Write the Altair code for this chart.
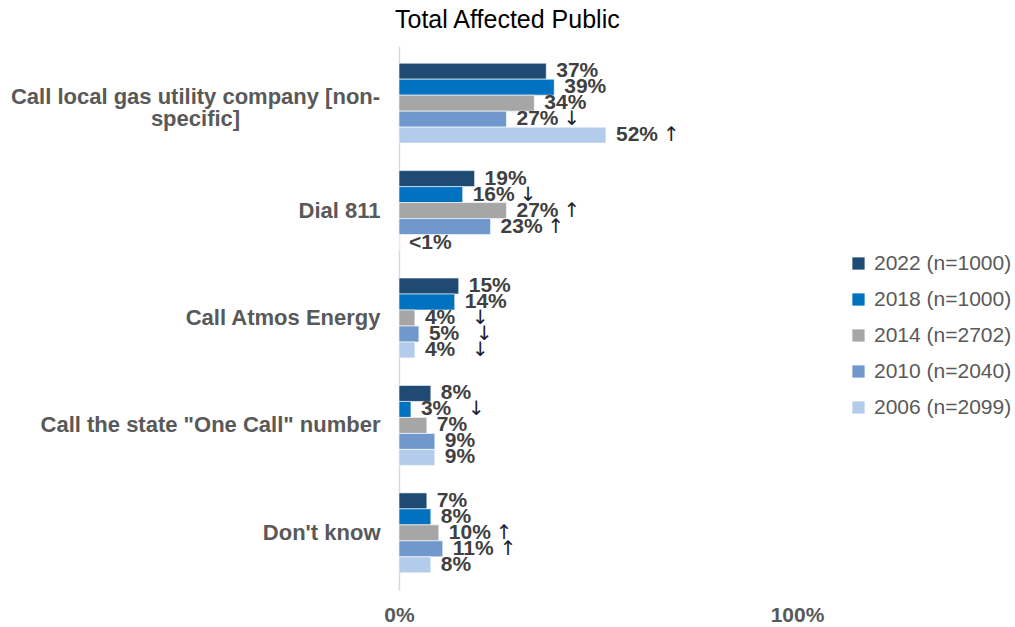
import altair as alt
import pandas as pd

categories = [
    "Call local gas utility company [non-specific]",
    "Dial 811",
    "Call Atmos Energy",
    'Call the state "One Call" number',
    "Don't know",
]
years = ["2022 (n=1000)", "2018 (n=1000)", "2014 (n=2702)", "2010 (n=2040)", "2006 (n=2099)"]
colors = ["#1F4A73", "#0072BF", "#A6A6A6", "#7198CC", "#B3CCEB"]

values = {
    "2022 (n=1000)": [37, 19, 15, 8, 7],
    "2018 (n=1000)": [39, 16, 14, 3, 8],
    "2014 (n=2702)": [34, 27, 4, 7, 10],
    "2010 (n=2040)": [27, 23, 5, 9, 11],
    "2006 (n=2099)": [52, 0, 4, 9, 8],
}
labels = {
    "2022 (n=1000)": ["37%", "19%", "15%", "8%", "7%"],
    "2018 (n=1000)": ["39%", "16%", "14%", "3%", "8%"],
    "2014 (n=2702)": ["34%", "27%", "4%", "7%", "10%"],
    "2010 (n=2040)": ["27%", "23%", "5%", "9%", "11%"],
    "2006 (n=2099)": ["52%", "<1%", "4%", "9%", "8%"],
}
arrows = {
    "2022 (n=1000)": ["", "", "", "", ""],
    "2018 (n=1000)": ["", "↓", "", "↓", ""],
    "2014 (n=2702)": ["", "↑", "↓", "", "↑"],
    "2010 (n=2040)": ["↓", "↑", "↓", "", "↑"],
    "2006 (n=2099)": ["↑", "", "↓", "", ""],
}

rows = []
for y in years:
    for i, c in enumerate(categories):
        rows.append({"category": c, "year": y, "value": values[y][i],
                     "label": labels[y][i], "arrow": arrows[y][i]})
df = pd.DataFrame(rows)

FONT = "Liberation Sans"
wrap_test = "indexof(datum.value, 'non-specific') >= 0"
label_expr = (
    "indexof(datum.label, 'non-specific') >= 0 ? "
    "['Call local gas utility company [non-', 'specific]'] : datum.label"
)

base = alt.Chart(df).encode(
    y=alt.Y(
        "category:N",
        sort=categories,
        title=None,
        scale=alt.Scale(paddingInner=0.256, paddingOuter=0.16),
        axis=alt.Axis(
            labelExpr=label_expr,
            labelFont=FONT,
            labelFontSize=22,
            labelFontWeight="bold",
            labelColor="#595959",
            labelAlign={"condition": {"test": wrap_test, "value": "center"}, "value": "right"},
            labelPadding={"condition": {"test": wrap_test, "value": 204}, "value": 19},
            labelOffset={"condition": {"test": wrap_test, "value": -6}, "value": 0},
            labelLimit=420,
            labelLineHeight=22,
            ticks=False,
            domainColor="#D9D9D9",
            domainWidth=1.5,
            grid=False,
        ),
    ),
    yOffset=alt.YOffset("year:N", sort=years, scale=alt.Scale(paddingInner=0, paddingOuter=0)),
)

xenc = alt.X(
    "value:Q",
    title=None,
    scale=alt.Scale(domain=[0, 100], nice=False),
    axis=alt.Axis(
        values=[0, 100],
        labelExpr="datum.value + '%'",
        labelFont=FONT,
        labelFontSize=21,
        labelFontWeight="bold",
        labelColor="#595959",
        labelPadding=14,
        labelFlush=False,
        ticks=False,
        domain=False,
        grid=False,
    ),
)

bars = base.mark_bar(stroke="white", strokeWidth=0.6).encode(
    x=xenc,
    color=alt.Color(
        "year:N",
        sort=years,
        scale=alt.Scale(domain=years, range=colors),
        legend=alt.Legend(
            title=None,
            orient="none",
            legendX=449,
            legendY=207,
            symbolType="square",
            symbolSize=150,
            symbolStrokeWidth=0,
            labelFont=FONT,
            labelFontSize=21,
            labelColor="#595959",
            labelOffset=5,
            rowPadding=14,
        ),
    ),
)

texts = base.mark_text(
    align="left", baseline="middle", dx=10, font=FONT, fontSize=21,
    fontWeight="bold", color="#404040"
).encode(x="value:Q", text="label:N")

arrow_layer = base.transform_filter("datum.arrow != ''").mark_text(
    align="left", baseline="middle", dx=57, font="DejaVu Sans", fontSize=20,
    color="#1E1E2E"
).encode(x="value:Q", text="arrow:N")

chart = (
    alt.layer(bars, texts, arrow_layer)
    .properties(
        width=398,
        height=544,
        title=alt.TitleParams(
            "Total Affected Public",
            anchor="start",
            frame="group",
            font=FONT,
            fontSize=25,
            fontWeight="normal",
            color="#000000",
            dx=-4,
            offset=13,
        ),
        padding={"left": 399, "top": 46, "right": 218, "bottom": 37},
        autosize=alt.AutoSizeParams(type="none"),
    )
    .configure_view(stroke=None)
)

chart.save("out.html", embed_options={"renderer": "svg", "actions": False})
